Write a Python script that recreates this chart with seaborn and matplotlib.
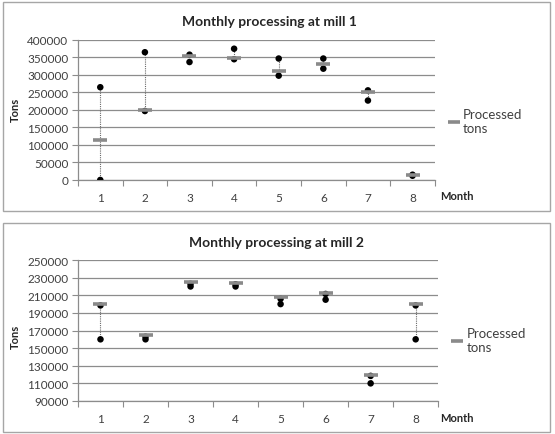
import numpy as np
import pandas as pd
import matplotlib
matplotlib.use('Agg')
import matplotlib.pyplot as plt
from matplotlib.patches import Rectangle
from matplotlib.lines import Line2D
import seaborn as sns

months = [1, 2, 3, 4, 5, 6, 7, 8]
month_labels = ['1', '2', '3', '4', '5', '6', '7', '8']

# mill 1
mill1_processed = [115000, 200000, 355000, 348000, 310000, 332000, 250000, 13000]
mill1_dot_a = [265000, 365000, 337000, 375000, 347000, 347000, 227000, 12000]
mill1_dot_b = [0, 197000, 358000, 345000, 298000, 318000, 256000, 15000]

# mill 2
mill2_processed = [200000, 165000, 225000, 224500, 207500, 213000, 120000, 200000]
mill2_dot_a = [160000, 160000, 220000, 220000, 200000, 205000, 110000, 160000]
mill2_dot_b = [198500, 163000, 223000, 222500, 206000, 211500, 118500, 198500]

sns.set_theme(style='white')
plt.rcParams['font.family'] = ['Lato', 'DejaVu Sans']

fig = plt.figure(figsize=(5.55, 4.35), dpi=100)
GRID = '#8c8c8c'
TXT = '#404040'


def panel(rect, title, proc, da, db, ylim, step, title_xy, legend_y, month_y, tons_y):
    ax = fig.add_axes(rect)
    df = pd.DataFrame({'month': months, 'proc': proc, 'a': da, 'b': db})
    lo = df[['proc', 'a', 'b']].min(axis=1)
    hi = df[['proc', 'a', 'b']].max(axis=1)
    ax.vlines(df['month'], lo, hi, colors='#6a6a6a', linestyles=(0, (1, 1)), linewidth=0.8, zorder=2)
    sns.scatterplot(data=df, x='month', y='a', color='black', s=22, edgecolor='none', ax=ax, zorder=3)
    sns.scatterplot(data=df, x='month', y='b', color='black', s=22, edgecolor='none', ax=ax, zorder=3)
    sns.scatterplot(data=df, x='month', y='proc', marker='_', color='#8a8a8a', s=90, linewidth=2.6, ax=ax, zorder=4)
    ax.set_xlim(0.5, 8.5)
    ax.set_ylim(*ylim)
    ax.set_yticks(np.arange(ylim[0], ylim[1] + 1, step))
    ax.set_yticklabels([str(int(v)) for v in np.arange(ylim[0], ylim[1] + 1, step)], fontsize=8.5, color=TXT)
    ax.set_xticks(months)
    ax.set_xticklabels(month_labels, fontsize=8.5, color=TXT)
    ax.set_xticks(np.arange(0.5, 9, 1), minor=True)
    ax.tick_params(axis='x', which='major', length=0, pad=9)
    ax.tick_params(axis='x', which='minor', length=4, color=GRID, width=0.8, direction='out', bottom=True)
    ax.tick_params(axis='y', length=4, color=GRID, width=0.8, direction='out', left=True, pad=3)
    ax.yaxis.grid(True, color=GRID, linewidth=0.9)
    ax.set_axisbelow(True)
    for s in ['top', 'right']:
        ax.spines[s].set_visible(False)
    for s in ['left', 'bottom']:
        ax.spines[s].set_color(GRID)
        ax.spines[s].set_linewidth(0.9)
    ax.set_xlabel('')
    ax.set_ylabel('')
    fig.text(title_xy[0], title_xy[1], title, ha='center', va='center', fontsize=10, fontweight='bold', color='#262626')
    fig.text(0.027, tons_y, 'Tons', rotation=90, ha='center', va='center', fontsize=8, fontweight='bold', color='#262626')
    fig.text(0.793, month_y, 'Month', ha='left', va='center', fontsize=8, fontweight='bold', color='#262626')
    h = Line2D([], [], color='#8a8a8a', marker='_', linestyle='none', markersize=9, markeredgewidth=2.6)
    ax.legend([h], ['Processed\ntons'], loc='center left', bbox_to_anchor=(1.005, legend_y), frameon=False,
              fontsize=9.5, handlelength=0.8, handletextpad=0.3, labelcolor=TXT)
    return ax


panel([0.1405, 0.584, 0.643, 0.3218], 'Monthly processing at mill 1',
      mill1_processed, mill1_dot_a, mill1_dot_b, (0, 400000), 50000,
      (0.486, 0.949), 0.42, 0.549, 0.747)
panel([0.1405, 0.0759, 0.649, 0.324], 'Monthly processing at mill 2',
      mill2_processed, mill2_dot_a, mill2_dot_b, (90000, 250000), 20000,
      (0.499, 0.441), 0.43, 0.039, 0.225)

fig.add_artist(Rectangle((0.006, 0.513), 0.985, 0.481, transform=fig.transFigure,
                         fill=False, edgecolor='#a6a6a6', linewidth=1))
fig.add_artist(Rectangle((0.006, 0.005), 0.985, 0.481, transform=fig.transFigure,
                         fill=False, edgecolor='#a6a6a6', linewidth=1))

fig.savefig('out.png', dpi=100)
